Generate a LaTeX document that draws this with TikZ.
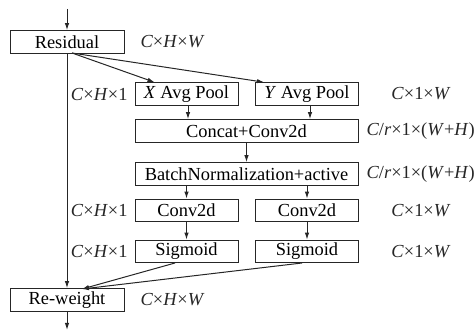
\documentclass[tikz,border=0pt]{standalone}
\usepackage{fontspec}
\setmainfont{Liberation Serif}
\usetikzlibrary{arrows.meta,calc}
\begin{document}
\begin{tikzpicture}[x=0.5pt,y=-0.5pt,
  font=\fontsize{9.2pt}{11pt}\selectfont,
  line width=0.5pt,
  blk/.style={draw=black!85,line width=0.5pt,minimum height=11.3pt,inner sep=0pt,text=black},
  wide/.style={blk,minimum width=111.5pt},
  half/.style={blk,minimum width=51.5pt},
  side/.style={blk,minimum width=57pt},
  dim/.style={inner sep=0pt,text=black!85},
  arr/.style={draw=black!85,-{Latex[length=3.5pt,width=2.2pt]}}]
\useasboundingbox (0,0) rectangle (475,335);

% main column
\node[side] (res) at (67,42) {Residual};
\node[side] (rw) at (67,300) {Re-weight};

% pooling branches
\node[half] (xp) at (186.5,94) {\textit{X} Avg Pool};
\node[half] (yp) at (307,94) {\textit{Y} Avg Pool};
\node[wide] (cat) at (246.5,131) {Concat+Conv2d};
\node[wide] (bn) at (246.5,174) {BatchNormalization+active};
\node[half] (cx) at (186.5,210.5) {Conv2d};
\node[half] (cy) at (307,210.5) {Conv2d};
\node[half] (sx) at (186.5,251.5) {Sigmoid};
\node[half] (sy) at (307,251.5) {Sigmoid};

% tensor sizes
\node[dim,anchor=west] (d1) at (140,42) {\textit{C}×\textit{H}×\textit{W}};
\node[dim,anchor=west] (d2) at (140,300) {\textit{C}×\textit{H}×\textit{W}};
\node[dim,anchor=east] (d3) at (128,94) {\textit{C}×\textit{H}×1};
\node[dim,anchor=east] (d4) at (128,210.5) {\textit{C}×\textit{H}×1};
\node[dim,anchor=east] (d5) at (128,251.5) {\textit{C}×\textit{H}×1};
\node[dim] (d6) at (421,94) {\textit{C}×1×\textit{W}};
\node[dim] (d7) at (421,210.5) {\textit{C}×1×\textit{W}};
\node[dim] (d8) at (421,251.5) {\textit{C}×1×\textit{W}};
\node[dim,anchor=west] (d9) at (366,131) {\textit{C}/\textit{r}×1×(\textit{W}+\textit{H})};
\node[dim,anchor=west] (d10) at (366,174) {\textit{C}/\textit{r}×1×(\textit{W}+\textit{H})};

% free ends
\coordinate (in) at (67,9);
\coordinate (out) at (67,330);
\coordinate (rs) at (72,53);
\coordinate (rwin) at (82,289);
\coordinate (xa) at (188,105);
\coordinate (ya) at (310,105);
\coordinate (sxo) at (175,263);
\coordinate (syo) at (302,263);

% connectors
\draw[arr] (in) -- (res.north);
\draw[arr] (res.south) -- (rw.north);
\draw[arr] (rs) -- ($(xp.north west)+(20,0)$);
\draw[arr] (rs) -- ($(yp.north west)+(9,0)$);
\draw[arr] (xa) -- (xa |- cat.north);
\draw[arr] (ya) -- (ya |- cat.north);
\draw[arr] (cat.south) -- (bn.north);
\draw[arr] (cx.north |- bn.south) -- (cx.north);
\draw[arr] (cy.north |- bn.south) -- (cy.north);
\draw[arr] (cx.south) -- (sx.north);
\draw[arr] (cy.south) -- (sy.north);
\draw[arr] (sxo) -- (rwin);
\draw[arr] (syo) -- (rwin);
\draw[arr] (rw.south) -- (out);
\end{tikzpicture}
\end{document}
